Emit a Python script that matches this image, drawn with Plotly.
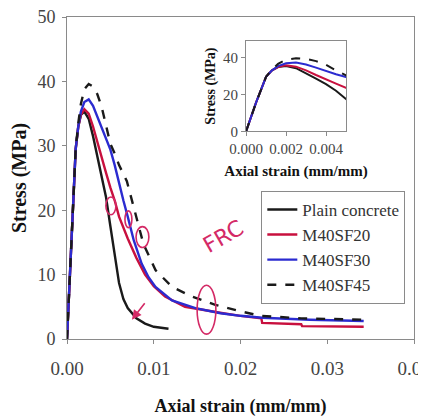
import plotly.graph_objects as go

# ---- data ----
plain_x = [0, 0.0005, 0.001, 0.0013, 0.0016, 0.002, 0.0025, 0.003, 0.0035, 0.004, 0.0045,
           0.005, 0.0055, 0.006, 0.0065, 0.007, 0.008, 0.009, 0.010, 0.0117]
plain_y = [0, 15.5, 29.5, 33, 34.8, 35.3, 34.2, 31.5, 28.5, 25.5, 22,
           17.5, 13, 8.7, 6.2, 4.8, 3.2, 2.4, 1.9, 1.6]

sf20_x = [0, 0.0005, 0.001, 0.0013, 0.0016, 0.002, 0.0025, 0.003, 0.0035, 0.004, 0.0045,
          0.005, 0.0055, 0.006, 0.007, 0.008, 0.009, 0.010, 0.0113, 0.0136, 0.016, 0.018,
          0.020, 0.0224, 0.0225, 0.027, 0.0271, 0.0342]
sf20_y = [0, 15.5, 29.5, 33, 34.8, 35.7, 35, 33, 30.5, 28, 25.8,
          23.5, 21.5, 19, 15.6, 12.6, 10, 8.2, 6.6, 5.0, 4.4, 4.0,
          3.6, 3.2, 2.5, 2.3, 2.0, 1.9]

sf30_x = [0, 0.0005, 0.001, 0.0013, 0.0016, 0.002, 0.0025, 0.003, 0.0035, 0.004, 0.0045,
          0.005, 0.0055, 0.006, 0.0065, 0.007, 0.0077, 0.0086, 0.0094, 0.0102, 0.0121,
          0.0148, 0.0177, 0.020, 0.0225, 0.028, 0.0342]
sf30_y = [0, 15.5, 29.5, 33, 35.3, 36.8, 37.2, 36.2, 34.5, 32.5, 30.9,
          29.4, 27, 24, 21.5, 19, 15.3, 11.7, 9.6, 8.1, 6.0,
          4.8, 4.0, 3.6, 3.3, 3.0, 2.8]

sf45_x = [0, 0.0005, 0.001, 0.0013, 0.0016, 0.002, 0.0025, 0.003, 0.0035, 0.004, 0.0045,
          0.005, 0.0055, 0.006, 0.0069, 0.0079, 0.0088, 0.0102, 0.0121, 0.0144, 0.0171,
          0.020, 0.0223, 0.027, 0.0342]
sf45_y = [0, 15.5, 29.5, 33.5, 36.5, 38.8, 39.6, 39.2, 38, 36, 33,
          30.3, 28.8, 27, 24.5, 19.4, 14.8, 10.7, 8.1, 6.6, 5.3,
          4.3, 3.6, 3.2, 3.0]

main_xticks = [0, 0.01, 0.02, 0.03, 0.04]
main_yticks = [0, 10, 20, 30, 40, 50]
inset_xticks = [0, 0.002, 0.004]
inset_yticks = [0, 20, 40]

series = [
    ("Plain concrete", plain_x, plain_y, "#1a1a1a", "solid"),
    ("M40SF20", sf20_x, sf20_y, "#c8103e", "solid"),
    ("M40SF30", sf30_x, sf30_y, "#2b2bd0", "solid"),
    ("M40SF45", sf45_x, sf45_y, "#1a1a1a", "dash"),
]

FONT = "Liberation Serif"
INK = "#d42a66"

fig = go.Figure()
for name, xs, ys, col, dash in series:
    fig.add_trace(go.Scatter(x=xs, y=ys, mode="lines", name=name,
                             line=dict(color=col, width=2.4, dash=dash),
                             xaxis="x", yaxis="y"))
for name, xs, ys, col, dash in series:
    fig.add_trace(go.Scatter(x=xs, y=ys, mode="lines", name=name, showlegend=False,
                             line=dict(color=col, width=2, dash=dash),
                             xaxis="x2", yaxis="y2"))

axis_common = dict(showgrid=False, zeroline=False, showline=True, mirror=True,
                   linecolor="#8a8a8a", linewidth=1, ticks="outside", ticklen=4,
                   tickcolor="#8a8a8a", ticklabeloverflow="allow", automargin=False)

fig.update_layout(
    width=418, height=411,
    margin=dict(l=59, r=12, t=9, b=80),
    paper_bgcolor="white", plot_bgcolor="white",
    font=dict(family=FONT, color="#333333"),
    xaxis=dict(range=[0, 0.04], tickvals=main_xticks, tickformat=".2f",
               tickfont=dict(family=FONT, size=19, color="#444444"), ticklabelstandoff=8,
               title=dict(text="<b>Axial strain (mm/mm)</b>",
                          font=dict(family=FONT, size=18, color="#111111"), standoff=21),
               **axis_common),
    yaxis=dict(range=[0, 50], tickvals=main_yticks,
               tickfont=dict(family=FONT, size=18, color="#444444"), ticklabelstandoff=3,
               title=dict(text="<b>Stress (MPa)</b>",
                          font=dict(family=FONT, size=20, color="#111111"), standoff=11),
               **axis_common),
    xaxis2=dict(domain=[0.516, 0.804], anchor="y2", range=[0, 0.005],
                tickvals=inset_xticks, tickformat=".3f",
                tickfont=dict(family=FONT, size=15, color="#444444"),
                title=dict(text="<b>Axial strain (mm/mm)</b>",
                           font=dict(family=FONT, size=15, color="#111111"), standoff=9),
                **axis_common),
    yaxis2=dict(domain=[0.645, 0.926], anchor="x2", range=[0, 49],
                tickvals=inset_yticks,
                tickfont=dict(family=FONT, size=15, color="#444444"),
                title=dict(text="<b>Stress (MPa)</b>",
                           font=dict(family=FONT, size=14, color="#111111"), standoff=4),
                **axis_common),
    legend=dict(x=0.56, y=0.46, xanchor="left", yanchor="top",
                bgcolor="white", bordercolor="#8a8a8a", borderwidth=1,
                font=dict(size=17, color="#333333", family=FONT),
                tracegroupgap=0),
    showlegend=True,
)

# hand-drawn red marks on the original picture
for x0, y0, x1, y1 in [(0.112, 0.386, 0.141, 0.441), (0.167, 0.346, 0.187, 0.398),
                       (0.199, 0.284, 0.236, 0.349), (0.375, 0.015, 0.429, 0.167)]:
    fig.add_shape(type="circle", xref="paper", yref="paper", x0=x0, y0=y0, x1=x1, y1=y1,
                  line=dict(color=INK, width=1.6))
fig.add_annotation(xref="paper", yref="paper", x=0.45, y=0.245, text="FRC", showarrow=False,
                   textangle=-30, font=dict(family="DejaVu Sans", size=22, color=INK))
fig.add_annotation(xref="paper", yref="paper", x=0.187, y=0.06, ax=14, ay=-18,
                   showarrow=True, arrowhead=2, arrowsize=1.2, arrowwidth=1.6,
                   arrowcolor=INK, text="")

fig.write_html("out.html")
